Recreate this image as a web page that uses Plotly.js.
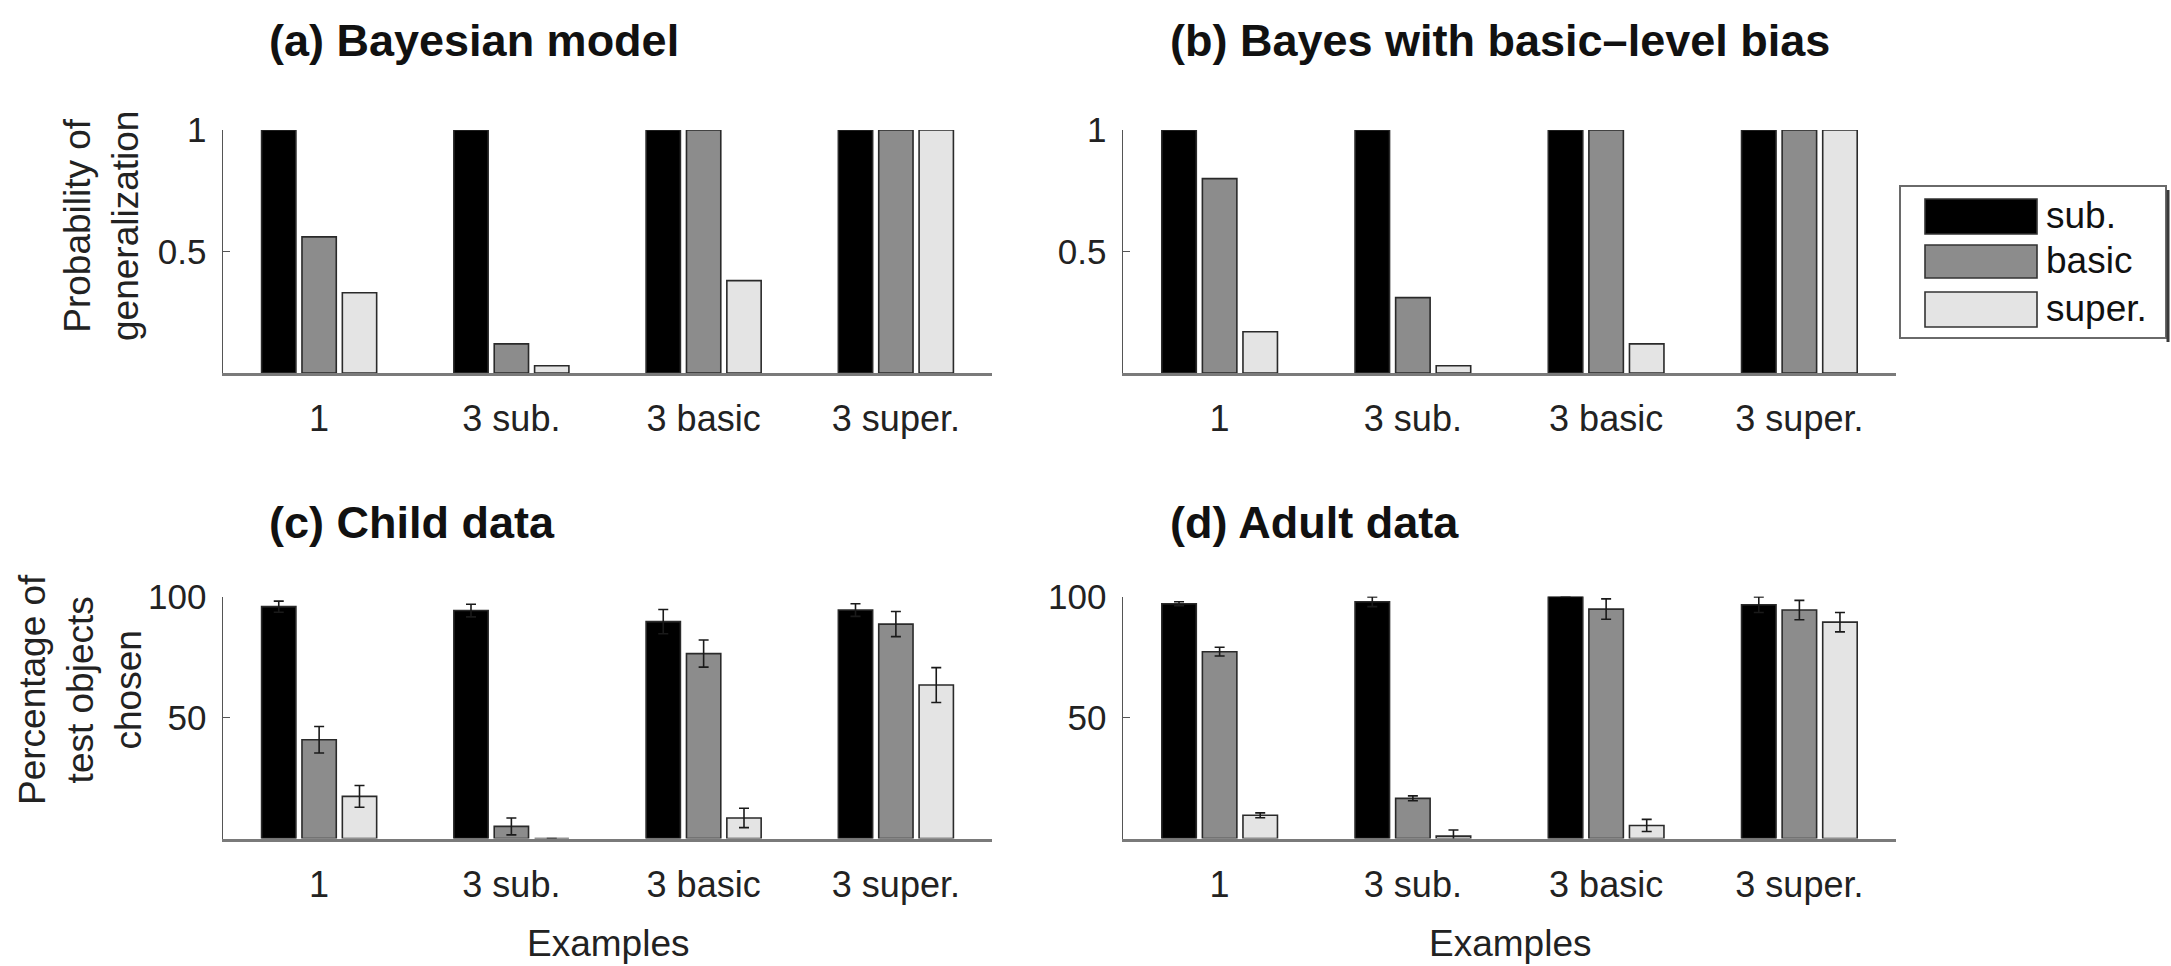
<!DOCTYPE html>
<html>
<head>
<meta charset="utf-8">
<script src="https://cdn.plot.ly/plotly-3.0.1.min.js"></script>
<style>html,body{margin:0;padding:0;background:#fff;}#chart{width:2171px;height:966px;}</style>
</head>
<body>
<div id="chart"></div>
<script>
// ---- data ----
const categories = ['1', '3 sub.', '3 basic', '3 super.'];
const seriesNames = ['sub.', 'basic', 'super.'];
const panelTitles = ['(a) Bayesian model', '(b) Bayes with basic\u2013level bias', '(c) Child data', '(d) Adult data'];

const modelSub   = [1, 1, 1, 1];
const modelBasic = [0.56, 0.12, 1, 1];
const modelSuper = [0.33, 0.03, 0.38, 1];

const biasSub   = [1, 1, 1, 1];
const biasBasic = [0.80, 0.31, 1, 1];
const biasSuper = [0.17, 0.03, 0.12, 1];

const childSub      = [95.8, 94.2, 89.6, 94.4];
const childBasic    = [40.8, 5.0, 76.4, 88.6];
const childSuper    = [17.4, 0, 8.5, 63.4];
const childSubErr   = [2.3, 2.6, 5.0, 2.6];
const childBasicErr = [5.5, 3.5, 5.6, 5.2];
const childSuperErr = [4.5, null, 4.0, 7.2];

const adultSub      = [97.0, 97.8, 100, 96.6];
const adultBasic    = [77.2, 16.6, 94.8, 94.4];
const adultSuper    = [9.6, 1.0, 5.4, 89.4];
const adultSubErr   = [0.8, 2.0, 0, 3.2];
const adultBasicErr = [1.8, 1.0, 4.2, 4.0];
const adultSuperErr = [1.0, 2.5, 2.5, 4.0];

const probTicks = [0.5, 1];
const pctTicks = [50, 100];

// ---- style ----
const W = 2171, H = 966;
const FONT = 'Liberation Sans, Arial, Helvetica, sans-serif';
const fills = ['#000000', '#8c8c8c', '#e4e4e4'];
const edge = '#2a2a2a';
const px = v => v / W;
const py = v => 1 - v / H;

function barTrace(y, i, xa, ya, err) {
  const t = {
    type: 'bar', x: categories, y: y, name: seriesNames[i],
    xaxis: xa, yaxis: ya, showlegend: false,
    marker: {color: fills[i], line: {color: edge, width: 1.6}},
    hoverinfo: 'skip'
  };
  if (err) {
    t.error_y = {type: 'data', array: err, visible: true, color: '#1a1a1a', thickness: 1.6, width: 5};
  }
  return t;
}

const data = [
  barTrace(modelSub, 0, 'x', 'y'), barTrace(modelBasic, 1, 'x', 'y'), barTrace(modelSuper, 2, 'x', 'y'),
  barTrace(biasSub, 0, 'x2', 'y2'), barTrace(biasBasic, 1, 'x2', 'y2'), barTrace(biasSuper, 2, 'x2', 'y2'),
  barTrace(childSub, 0, 'x3', 'y3', childSubErr), barTrace(childBasic, 1, 'x3', 'y3', childBasicErr), barTrace(childSuper, 2, 'x3', 'y3', childSuperErr),
  barTrace(adultSub, 0, 'x4', 'y4', adultSubErr), barTrace(adultBasic, 1, 'x4', 'y4', adultBasicErr), barTrace(adultSuper, 2, 'x4', 'y4', adultSuperErr)
];

function xAxis(l, r, anchor) {
  return {
    domain: [px(l), px(r)], anchor: anchor, type: 'category', range: [-0.5, 3.5],
    showline: true, linecolor: '#7a7a7a', linewidth: 3, ticks: '', showgrid: false, zeroline: false,
    tickfont: {family: FONT, size: 36, color: '#222'}, ticklabelstandoff: 12, fixedrange: true
  };
}
function yAxis(top, bottom, anchor, rng, tv) {
  return {
    domain: [py(bottom), py(top)], anchor: anchor, range: rng, tickvals: tv,
    showline: true, linecolor: '#555', linewidth: 1.5, ticks: 'inside', ticklen: 7, tickcolor: '#555', tickwidth: 1.5,
    showgrid: false, zeroline: false, tickfont: {family: FONT, size: 35, color: '#222'}, ticklabelstandoff: 8, fixedrange: true
  };
}

const TOP1 = 130, BOT1 = 373, TOP2 = 596.5, BOT2 = 838.5;
const annotations = [];
const titleFont = {family: FONT, size: 45, color: '#111', weight: 'bold'};
[[267, 41], [1168, 41], [267, 522], [1168, 522]].forEach((p, i) => {
  annotations.push({xref: 'paper', yref: 'paper', x: px(p[0]), y: py(p[1]), xanchor: 'left', yanchor: 'middle',
    text: '<b>' + panelTitles[i] + '</b>', showarrow: false, font: titleFont});
});
annotations.push({xref: 'paper', yref: 'paper', x: px(102), y: py(226), xanchor: 'center', yanchor: 'middle',
  textangle: -90, text: 'Probability of<br>generalization', showarrow: false, font: {family: FONT, size: 37, color: '#222'}});
annotations.push({xref: 'paper', yref: 'paper', x: px(80), y: py(690), xanchor: 'center', yanchor: 'middle',
  textangle: -90, text: 'Percentage of<br>test objects<br>chosen', showarrow: false, font: {family: FONT, size: 37, color: '#222'}});
['x3 domain', 'x4 domain'].forEach(xr => {
  annotations.push({xref: xr, yref: 'paper', x: 0.5, y: py(943), xanchor: 'center', yanchor: 'middle',
    text: 'Examples', showarrow: false, font: {family: FONT, size: 37, color: '#222'}});
});

// legend drawn manually
const shapes = [
  {type: 'rect', xref: 'paper', yref: 'paper', x0: px(1900), x1: px(2166), y0: py(338), y1: py(186),
   line: {color: '#6a6a6a', width: 2}, fillcolor: '#ffffff'},
  {type: 'line', xref: 'paper', yref: 'paper', x0: px(2168), x1: px(2168), y0: py(342), y1: py(190),
   line: {color: '#3a3a3a', width: 3}}
];
const swY = [[199, 234], [245, 278], [292, 327]];
swY.forEach((s, i) => {
  shapes.push({type: 'rect', xref: 'paper', yref: 'paper', x0: px(1925), x1: px(2037), y0: py(s[1]), y1: py(s[0]),
    fillcolor: fills[i], line: {color: '#333', width: 1.6}});
  annotations.push({xref: 'paper', yref: 'paper', x: px(2044), y: py((s[0] + s[1]) / 2 - 1), xanchor: 'left', yanchor: 'middle',
    text: seriesNames[i], showarrow: false, font: {family: FONT, size: 37, color: '#111'}});
});

const layout = {
  width: W, height: H, margin: {l: 0, r: 0, t: 0, b: 0},
  paper_bgcolor: '#fff', plot_bgcolor: 'rgba(0,0,0,0)',
  barmode: 'group', bargap: 0.37, bargroupgap: 0.15, showlegend: false,
  font: {family: FONT, color: '#222'},
  xaxis: xAxis(223, 992, 'y'), yaxis: yAxis(TOP1, BOT1, 'x', [0, 1], probTicks),
  xaxis2: xAxis(1123, 1896, 'y2'), yaxis2: yAxis(TOP1, BOT1, 'x2', [0, 1], probTicks),
  xaxis3: xAxis(223, 992, 'y3'), yaxis3: yAxis(TOP2, BOT2, 'x3', [0, 100], pctTicks),
  xaxis4: xAxis(1123, 1896, 'y4'), yaxis4: yAxis(TOP2, BOT2, 'x4', [0, 100], pctTicks),
  annotations: annotations, shapes: shapes
};

Plotly.newPlot('chart', data, layout, {displayModeBar: false, staticPlot: true});
</script>
</body>
</html>
